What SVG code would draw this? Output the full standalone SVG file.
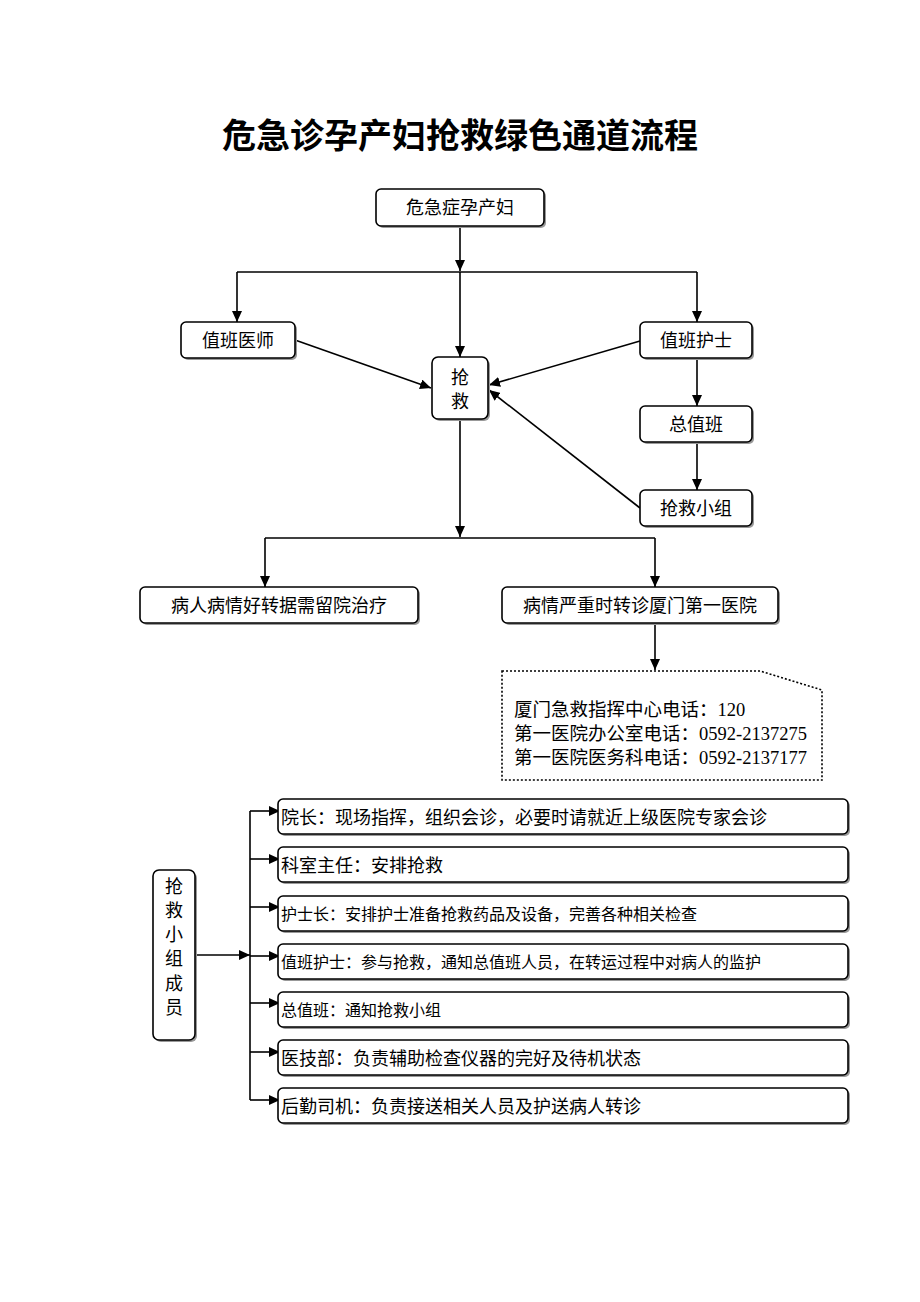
<svg xmlns="http://www.w3.org/2000/svg" width="920" height="1302" viewBox="0 0 920 1302">
<style>
.bx{fill:#fff;stroke:#000;stroke-width:1.6}
.sh{fill:#999;stroke:none}
.t{font-family:"Liberation Serif","Noto Sans CJK SC",serif;font-size:18px;fill:#000}
.s{font-size:16px}
.p{font-size:18.5px}
.c{stroke:#000;stroke-width:1.6;fill:none}
.a{marker-end:url(#ah)}
</style>
<defs>
<marker id="ah" markerUnits="userSpaceOnUse" markerWidth="12" markerHeight="10" refX="11" refY="5" orient="auto"><path d="M0,0 L11,5 L0,10 z" fill="#000"/></marker>
</defs>
<rect width="920" height="1302" fill="#fff"/>
<text x="460" y="148" text-anchor="middle" font-family="'Noto Sans CJK SC',sans-serif" font-size="34" font-weight="bold">危急诊孕产妇抢救绿色通道流程</text>

<g id="connectors">
<path class="c a" d="M460,226 V271"/>
<path class="c" d="M237,272 H697"/>
<path class="c a" d="M460,272 V357"/>
<path class="c a" d="M237,272 V322"/>
<path class="c a" d="M697,272 V322"/>
<path class="c a" d="M295,340 L431,388"/>
<path class="c a" d="M640,341 L489,385"/>
<path class="c a" d="M697,358 V406"/>
<path class="c a" d="M697,442 V490"/>
<path class="c a" d="M640,508 L489,390"/>
<path class="c a" d="M460,419 V537"/>
<path class="c" d="M265,538 H655"/>
<path class="c a" d="M265,538 V587"/>
<path class="c a" d="M655,538 V587"/>
<path class="c a" d="M655,623 V670"/>
<path class="c a" d="M195,955 H250"/>
<path class="c" d="M250,811 V1100"/>
<path class="c a" d="M250,811 H280"/>
<path class="c a" d="M250,859 H280"/>
<path class="c a" d="M250,907 H280"/>
<path class="c a" d="M250,956 H280"/>
<path class="c a" d="M250,1003 H280"/>
<path class="c a" d="M250,1052 H280"/>
<path class="c a" d="M250,1100 H280"/>
</g>

<g id="n-start"><rect class="sh" x="378" y="191" width="168" height="37" rx="5"/><rect class="bx" x="376" y="189" width="168" height="37" rx="5"/><text class="t" x="460" y="214" text-anchor="middle">危急症孕产妇</text></g>
<g id="n-doctor"><rect class="sh" x="183" y="324" width="114" height="36" rx="5"/><rect class="bx" x="181" y="322" width="114" height="36" rx="5"/><text class="t" x="238" y="347" text-anchor="middle">值班医师</text></g>
<g id="n-nurse"><rect class="sh" x="642" y="324" width="112" height="36" rx="5"/><rect class="bx" x="640" y="322" width="112" height="36" rx="5"/><text class="t" x="696" y="347" text-anchor="middle">值班护士</text></g>
<g id="n-rescue"><rect class="sh" x="434" y="359" width="56" height="62" rx="6"/><rect class="bx" x="432" y="357" width="56" height="62" rx="6"/><text class="t" x="460" y="384" text-anchor="middle">抢</text><text class="t" x="460" y="408" text-anchor="middle">救</text></g>
<g id="n-chief"><rect class="sh" x="642" y="408" width="112" height="36" rx="5"/><rect class="bx" x="640" y="406" width="112" height="36" rx="5"/><text class="t" x="696" y="431" text-anchor="middle">总值班</text></g>
<g id="n-team"><rect class="sh" x="642" y="492" width="112" height="36" rx="5"/><rect class="bx" x="640" y="490" width="112" height="36" rx="5"/><text class="t" x="696" y="515" text-anchor="middle">抢救小组</text></g>
<g id="n-stay"><rect class="sh" x="142" y="589" width="278" height="36" rx="5"/><rect class="bx" x="140" y="587" width="278" height="36" rx="5"/><text class="t" x="279" y="612" text-anchor="middle">病人病情好转据需留院治疗</text></g>
<g id="n-transfer"><rect class="sh" x="504" y="589" width="276" height="36" rx="5"/><rect class="bx" x="502" y="587" width="276" height="36" rx="5"/><text class="t" x="640" y="612" text-anchor="middle">病情严重时转诊厦门第一医院</text></g>
<g id="n-phones">
<path d="M502,671 H760 L822,690 V780 H502 Z" fill="#fff" stroke="#000" stroke-width="1.6" stroke-dasharray="2,2"/>
<text class="t p" x="514" y="716">厦门急救指挥中心电话：120</text>
<text class="t p" x="514" y="740">第一医院办公室电话：0592-2137275</text>
<text class="t p" x="514" y="764">第一医院医务科电话：0592-2137177</text>
</g>
<g id="n-members"><rect class="sh" x="155" y="872" width="42" height="170" rx="6"/><rect class="bx" x="153" y="870" width="42" height="170" rx="6"/>
<text class="t" x="174" y="893" text-anchor="middle">抢</text><text class="t" x="174" y="917" text-anchor="middle">救</text><text class="t" x="174" y="941" text-anchor="middle">小</text><text class="t" x="174" y="965" text-anchor="middle">组</text><text class="t" x="174" y="990" text-anchor="middle">成</text><text class="t" x="174" y="1014" text-anchor="middle">员</text></g>
<g id="r1"><rect class="sh" x="280" y="801" width="570" height="35" rx="5"/><rect class="bx" x="278" y="799" width="570" height="35" rx="5"/><text class="t" x="281" y="824">院长：现场指挥，组织会诊，必要时请就近上级医院专家会诊</text></g>
<g id="r2"><rect class="sh" x="280" y="849" width="570" height="35" rx="5"/><rect class="bx" x="278" y="847" width="570" height="35" rx="5"/><text class="t" x="281" y="872">科室主任：安排抢救</text></g>
<g id="r3"><rect class="sh" x="280" y="898" width="570" height="35" rx="5"/><rect class="bx" x="278" y="896" width="570" height="35" rx="5"/><text class="t s" x="281" y="920">护士长：安排护士准备抢救药品及设备，完善各种相关检查</text></g>
<g id="r4"><rect class="sh" x="280" y="946" width="570" height="35" rx="5"/><rect class="bx" x="278" y="944" width="570" height="35" rx="5"/><text class="t s" x="281" y="968">值班护士：参与抢救，通知总值班人员，在转运过程中对病人的监护</text></g>
<g id="r5"><rect class="sh" x="280" y="994" width="570" height="35" rx="5"/><rect class="bx" x="278" y="992" width="570" height="35" rx="5"/><text class="t s" x="281" y="1016">总值班：通知抢救小组</text></g>
<g id="r6"><rect class="sh" x="280" y="1042" width="570" height="35" rx="5"/><rect class="bx" x="278" y="1040" width="570" height="35" rx="5"/><text class="t" x="281" y="1065">医技部：负责辅助检查仪器的完好及待机状态</text></g>
<g id="r7"><rect class="sh" x="280" y="1090" width="570" height="35" rx="5"/><rect class="bx" x="278" y="1088" width="570" height="35" rx="5"/><text class="t" x="281" y="1113">后勤司机：负责接送相关人员及护送病人转诊</text></g>
</svg>
